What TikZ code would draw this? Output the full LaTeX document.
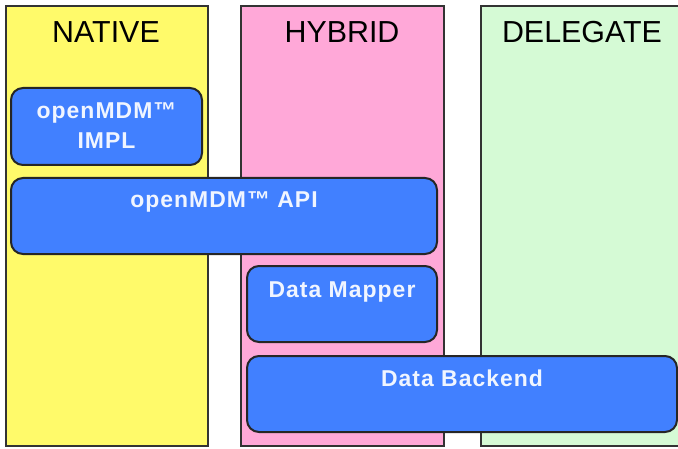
\documentclass[tikz,border=0pt]{standalone}
\usepackage{fontspec}
\setmainfont{Liberation Sans}
\newfontfamily\boxfont[LetterSpace=4.5]{Liberation Sans}
\definecolor{nativeyellow}{HTML}{FFFA6A}
\definecolor{hybridpink}{HTML}{FFA8D8}
\definecolor{delegategreen}{HTML}{D5FAD5}
\definecolor{mdmblue}{HTML}{4180FF}

\begin{document}
\begin{tikzpicture}[x=0.75pt,y=-0.75pt,
    column/.style={draw=black!80,line width=1.1pt},
    heading/.style={font=\fontsize{22.8}{27}\selectfont},
    block/.style={draw=black!85,line width=1.5pt,fill=mdmblue,rounded corners=9pt,inner sep=0pt},
    blocktext/.style={text=white!92!mdmblue,font=\boxfont\bfseries\fontsize{17.2}{22.5}\selectfont,align=center,anchor=base}]
      \useasboundingbox (0,0) rectangle (678,449);
      \draw [column,fill=nativeyellow] (6,6) rectangle (208,446);
      \draw [column,fill=hybridpink] (241,6) rectangle (444,446);
      \draw [column,fill=delegategreen] (481,6) rectangle (700,446);
      \node [heading] (native) at (106,32) {NATIVE};
      \node [heading] (hybrid) at (342,32) {HYBRID};
      \node [heading] (delegate) at (582,32) {DELEGATE};
      \node [block,minimum width=143.25pt,minimum height=57.75pt] (impl) at (106.5,126.5) {};
      \node [blocktext] (impltext) at ([yshift=-46.5pt]impl.north) {openMDM™\\IMPL};
      \node [block,minimum width=319.5pt,minimum height=57pt] (api) at (224,216) {};
      \node [blocktext] (apitext) at ([yshift=-23.25pt]api.north) {openMDM™ API};
      \node [block,minimum width=142.5pt,minimum height=57pt] (mapper) at (342,304) {};
      \node [blocktext] (mappertext) at ([yshift=-24pt]mapper.north) {Data Mapper};
      \node [block,minimum width=322.5pt,minimum height=57pt] (backend) at (462,394) {};
      \node [blocktext] (backendtext) at ([yshift=-23.25pt]backend.north) {Data Backend};
    \end{tikzpicture}
\end{document}
